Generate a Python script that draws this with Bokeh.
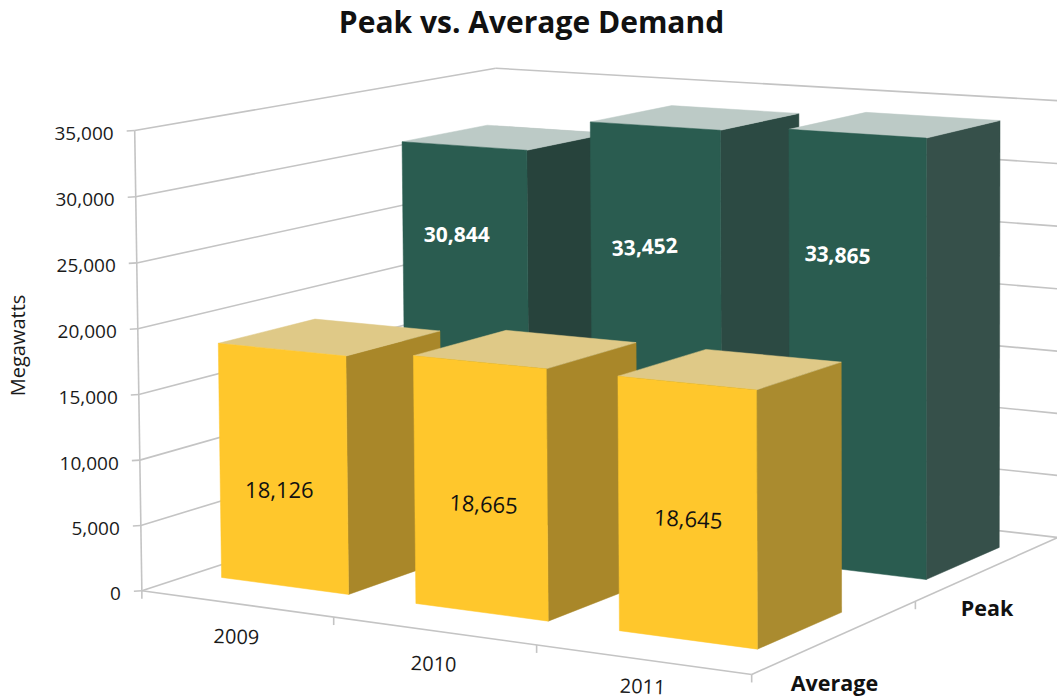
import numpy as np
from bokeh.plotting import figure
from bokeh.embed import file_html
from bokeh.resources import INLINE
from bokeh.core.properties import value

title = "Peak vs. Average Demand"
y_title = "Megawatts"
years = ["2009", "2010", "2011"]
series = ["Average", "Peak"]
average = [18126, 18665, 18645]
peak = [30844, 33452, 33865]
y_ticks = [0, 5000, 10000, 15000, 20000, 25000, 30000, 35000]
y_max = 35000

FONT = "Open Sans"
W, H = 1057, 700

# camera calibration: (category, depth, value fraction) -> pixel
anchors = [
    ((0, 0, 0), (142, 590)), ((1, 0, 0), (334, 617)), ((2, 0, 0), (536, 644)),
    ((3, 0, 0), (751, 673)), ((3, 1, 0), (915, 603)), ((3, 2, 0), (1058, 536)),
    ((0, 0, 1), (133, 130)), ((0, 2, 1), (497, 68)), ((3, 2, 1), (1058, 100)),
    ((0, 2, 0), (497, 473)),
]
A, b = [], []
for (X, Z, Y), (u, v) in anchors:
    A.append([X, Z, Y, 1, 0, 0, 0, 0, -u * X, -u * Z, -u * Y])
    b.append(u)
    A.append([0, 0, 0, 0, X, Z, Y, 1, -v * X, -v * Z, -v * Y])
    b.append(v)
sol = np.linalg.lstsq(np.array(A, float), np.array(b, float), rcond=None)[0]
P = np.array([[sol[0], sol[1], sol[2], sol[3]],
              [sol[4], sol[5], sol[6], sol[7]],
              [sol[8], sol[9], sol[10], 1.0]])


def proj(X, Z, v):
    q = P @ np.array([X, Z, v / y_max, 1.0])
    return q[0] / q[2], q[1] / q[2]


p = figure(width=W, height=H, x_range=(0, W), y_range=(H, 0),
           toolbar_location=None, output_backend="svg",
           min_border=0, outline_line_color=None)
p.axis.visible = False
p.grid.visible = False
p.styles = {"position": "absolute", "left": "0px", "top": "0px"}

GRID = "#c4c4c4"


def seg(a, b, color=GRID, width=1.6):
    p.line([a[0], b[0]], [a[1], b[1]], line_color=color, line_width=width)


# walls
for t in y_ticks:
    seg(proj(0, 0, t), proj(0, 2, t))
    seg(proj(0, 2, t), proj(3, 2, t))
    a = proj(0, 0, t)
    seg((a[0] - 8, a[1] + 0.5), a)
    p.text([a[0] - 21], [a[1] + 3], text=[f"{t:,}"], text_font=value(FONT), text_font_size="19px",
           text_align="right", text_baseline="middle", text_color="#1a1a1a")
seg(proj(0, 0, 0), proj(0, 0, y_max))
seg(proj(0, 0, 0), proj(3, 0, 0))
seg(proj(3, 0, 0), proj(3, 2, 0))

# ticks below the floor
for i in range(4):
    a = proj(i, 0, 0)
    seg(a, (a[0], a[1] + 8))
for i in range(1, 3):
    a = proj(3, i, 0)
    seg(a, (a[0], a[1] + 8))

STYLE = {
    "Average": dict(x0=[0.15, 0.165, 0.17], x1=[0.82, 0.825, 0.82], z0=0.26, z1=0.77,
                    front="#ffc72c", side=["#a98729", "#a98729", "#aa8b2f"], top="#dfc987",
                    text="#111111", frac=0.40, fs="22px", weight="normal",
                    dx=[-3, 6, 4], dy=[-2, -8, -18], tilt=[0, -3, -3]),
    "Peak": dict(x0=[0.15, 0.168, 0.185], x1=[0.83, 0.84, 0.857], z0=1.27, z1=1.78,
                 front="#2a5c50", side=["#27433c", "#2c4a43", "#36504a"], top="#bccac6",
                 text="#ffffff", frac=0.78, fs="21px", weight="bold",
                 dx=[-6, -6, -11], dy=[5, 28, 25], tilt=[0, 3, -3]),
}


def face(pts, color):
    xs = [q[0] for q in pts]
    ys = [q[1] for q in pts]
    p.patch(xs, ys, fill_color=color, line_color=color, line_width=0.5)


for name, vals in (("Peak", peak), ("Average", average)):
    s = STYLE[name]
    for i, v in enumerate(vals):
        a, c = i + s["x0"][i], i + s["x1"][i]
        z0, z1 = s["z0"], s["z1"]
        face([proj(c, z0, 0), proj(c, z1, 0), proj(c, z1, v), proj(c, z0, v)], s["side"][i])
        face([proj(a, z0, v), proj(c, z0, v), proj(c, z1, v), proj(a, z1, v)], s["top"])
        face([proj(a, z0, 0), proj(c, z0, 0), proj(c, z0, v), proj(a, z0, v)], s["front"])
    for i, v in enumerate(vals):
        q = proj(i + 0.48, s["z0"], v * s["frac"])
        p.text([q[0] + s["dx"][i]], [q[1] + s["dy"][i]], text=[f"{v:,}"], text_font=value(FONT),
               text_font_size=s["fs"], text_font_style=s["weight"], angle=np.radians(s["tilt"][i]),
               text_align="center", text_baseline="middle", text_color=s["text"])

for i, y in enumerate(years):
    q = proj(i + 0.5, 0, 0)
    p.text([q[0]], [min(q[1] + 33, 686)], text=[y], text_font=value(FONT), text_font_size="20px",
           angle=np.radians(-2), text_align="center", text_baseline="middle", text_color="#1a1a1a")
for i, n in enumerate(series):
    q = proj(3, i + 0.5, 0)
    p.text([q[0] - 2], [q[1] + 46 - 7 * i], text=[n], text_font=value(FONT), text_font_size="21.5px",
           text_font_style="bold", text_align="center", text_baseline="middle", text_color="#111111")

p.text([531], [21], text=[title], text_font=value(FONT), text_font_size="30px", text_font_style="bold",
       text_align="center", text_baseline="middle", text_color="#111111")
p.text([17], [345], text=[y_title], text_font=value(FONT), text_font_size="20px", angle=np.pi / 2,
       text_align="center", text_baseline="middle", text_color="#1a1a1a")

open("out.html", "w").write(file_html(p, INLINE))
